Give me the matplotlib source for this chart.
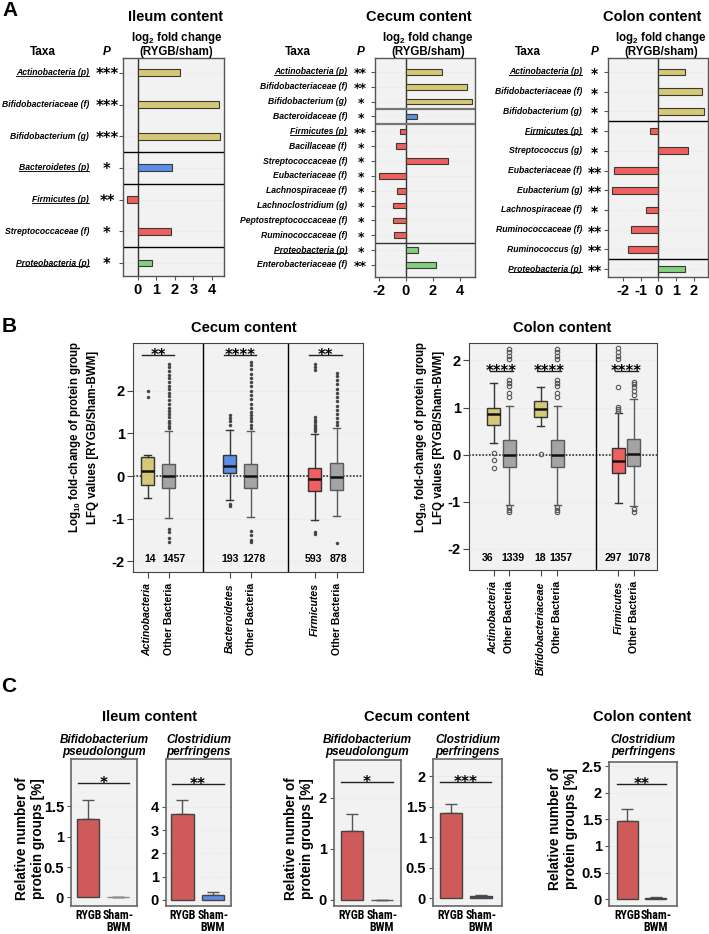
import matplotlib
matplotlib.use('Agg')
import matplotlib.pyplot as plt
from matplotlib.lines import Line2D
from matplotlib import font_manager as fm
from matplotlib import transforms as mtransforms
import numpy as np

plt.rcParams['font.family'] = ['Liberation Sans', 'DejaVu Sans']
plt.rcParams['font.weight'] = 'bold'
plt.rcParams['mathtext.fontset'] = 'custom'
plt.rcParams['mathtext.rm'] = 'Liberation Sans:bold'
plt.rcParams['mathtext.it'] = 'Liberation Sans:bold:italic'
plt.rcParams['mathtext.bf'] = 'Liberation Sans:bold'
plt.rcParams['mathtext.default'] = 'rm'

NARROW = None
for fam in ['Liberation Sans Narrow', 'Roboto Condensed', 'Open Sans Condensed']:
    try:
        fm.findfont(fm.FontProperties(family=fam, weight='bold'), fallback_to_default=False)
        NARROW = fam
        break
    except Exception:
        pass

STAR_FAMILY = ['DejaVu Sans']

# ---------------- DATA ----------------
# Panel A: log2 fold change (RYGB/sham)
ileum_taxa = ['Actinobacteria (p)', 'Bifidobacteriaceae (f)', 'Bifidobacterium (g)',
              'Bacteroidetes (p)', 'Firmicutes (p)', 'Streptococcaceae (f)', 'Proteobacteria (p)']
ileum_phylum = ['Actinobacteria', 'Actinobacteria', 'Actinobacteria', 'Bacteroidetes',
                'Firmicutes', 'Firmicutes', 'Proteobacteria']
ileum_log2fc = [2.27, 4.4, 4.42, 1.83, -0.58, 1.77, 0.74]
ileum_p = ['***', '***', '***', '*', '**', '*', '*']

cecum_taxa = ['Actinobacteria (p)', 'Bifidobacteriaceae (f)', 'Bifidobacterium (g)',
              'Bacteroidaceae (f)', 'Firmicutes (p)', 'Bacillaceae (f)', 'Streptococcaceae (f)',
              'Eubacteriaceae (f)', 'Lachnospiraceae (f)', 'Lachnoclostridium (g)',
              'Peptostreptococcaceae (f)', 'Ruminococcaceae (f)', 'Proteobacteria (p)',
              'Enterobacteriaceae (f)']
cecum_phylum = ['Actinobacteria'] * 3 + ['Bacteroidetes'] + ['Firmicutes'] * 8 + ['Proteobacteria'] * 2
cecum_log2fc = [2.65, 4.5, 4.9, 0.8, -0.42, -0.74, 3.13, -1.94, -0.62, -0.91, -0.96, -0.84, 0.93, 2.2]
cecum_p = ['**', '**', '*', '*', '**', '*', '*', '*', '*', '*', '*', '*', '*', '**']

colon_taxa = ['Actinobacteria (p)', 'Bifidobacteriaceae (f)', 'Bifidobacterium (g)',
              'Firmicutes (p)', 'Streptococcus (g)', 'Eubacteriaceae (f)', 'Eubacterium (g)',
              'Lachnospiraceae (f)', 'Ruminococcaceae (f)', 'Ruminococcus (g)', 'Proteobacteria (p)']
colon_phylum = ['Actinobacteria'] * 3 + ['Firmicutes'] * 7 + ['Proteobacteria']
colon_log2fc = [1.5, 2.47, 2.57, -0.45, 1.69, -2.49, -2.62, -0.69, -1.57, -1.69, 1.5]
colon_p = ['*', '*', '*', '*', '*', '**', '**', '*', '**', '**', '**']

# Panel B: box plot statistics (log10 fold change)
b_cecum_labels = ['Actinobacteria', 'Other Bacteria', 'Bacteroidetes', 'Other Bacteria',
                  'Firmicutes', 'Other Bacteria']
b_cecum_group = ['Actinobacteria', 'Other', 'Bacteroidetes', 'Other', 'Firmicutes', 'Other']
b_cecum_n = [14, 1457, 193, 1278, 593, 878]
b_cecum_q1 = [-0.21, -0.29, 0.06, -0.28, -0.35, -0.33]
b_cecum_med = [0.12, 0.0, 0.24, 0.0, -0.07, -0.02]
b_cecum_q3 = [0.45, 0.28, 0.5, 0.28, 0.2, 0.3]
b_cecum_lo = [-0.51, -0.99, -0.56, -0.96, -1.03, -0.94]
b_cecum_hi = [0.49, 1.05, 1.07, 1.05, 0.98, 1.12]
b_cecum_fliers = [
    [1.86, 2.0],
    [1.12, 1.18, 1.25, 1.3, 1.38, 1.45, 1.52, 1.6, 1.7, 1.78, 1.88, 1.95, 2.05, 2.12,
     2.2, 2.3, 2.38, 2.47, 2.55, 2.62, -1.25, -1.32, -1.45, -1.55],
    [1.2, 1.28, 1.35, 1.42, -0.65, -0.7],
    [1.12, 1.2, 1.28, 1.35, 1.42, 1.5, 1.6, 1.7, 1.8, 1.9, 2.0, 2.1, 2.2, 2.3, 2.4,
     2.5, 2.6, 2.68, -1.3, -1.38, -1.5, -1.55],
    [1.05, 1.1, 1.15, 1.2, 1.26, 1.32, 1.38, 2.48, 2.55, 2.62, -1.32, -1.37],
    [1.2, 1.27, 1.35, 1.45, 1.55, 1.65, 1.75, 1.85, 1.95, 2.05, 2.15, 2.25, 2.35, 2.42, -1.58],
]
b_cecum_sig = ['**', '****', '**']

b_colon_labels = ['Actinobacteria', 'Other Bacteria', 'Bifidobacteriaceae', 'Other Bacteria',
                  'Firmicutes', 'Other Bacteria']
b_colon_group = ['Actinobacteria', 'Other', 'Actinobacteria', 'Other', 'Firmicutes', 'Other']
b_colon_n = [36, 1339, 18, 1357, 297, 1078]
b_colon_q1 = [0.62, -0.27, 0.79, -0.27, -0.4, -0.25]
b_colon_med = [0.86, 0.0, 0.96, 0.0, -0.13, 0.02]
b_colon_q3 = [0.99, 0.3, 1.14, 0.3, 0.13, 0.33]
b_colon_lo = [0.25, -1.07, 0.6, -1.07, -1.02, -1.1]
b_colon_hi = [1.53, 1.03, 1.44, 1.03, 0.88, 1.18]
b_colon_fliers = [
    [0.03, -0.12, -0.28],
    [1.22, 1.3, 1.45, 1.52, 1.58, 2.02, 2.1, 2.17, 2.25, -1.12, -1.17, -1.22],
    [0.02],
    [1.22, 1.3, 1.45, 1.52, 1.58, 2.02, 2.1, 2.17, 2.25, -1.12, -1.17, -1.22],
    [0.93, 0.97, 1.01, 1.44, 2.02, 2.1, 2.18, 2.26],
    [1.27, 1.35, 1.43, 1.5, 1.55, -1.16, -1.22],
]
b_colon_sig = ['****', '****', '****']

# Panel C: relative number of protein groups [%]
c_groups = ['RYGB', 'Sham-\nBWM']
c_ileum_bifido = [1.29, 0.0]
c_ileum_bifido_err = [0.31, 0.0]
c_ileum_clos = [3.7, 0.23]
c_ileum_clos_err = [0.58, 0.1]
c_cecum_bifido = [1.34, 0.0]
c_cecum_bifido_err = [0.35, 0.0]
c_cecum_clos = [1.39, 0.04]
c_cecum_clos_err = [0.15, 0.01]
c_colon_clos = [1.47, 0.02]
c_colon_clos_err = [0.22, 0.01]
c_sig = ['*', '**', '*', '***', '**']

# ---------------- STYLE ----------------
W, H = 709, 934
BG = '#f2f2f2'
PHY_COL = {'Actinobacteria': '#d5c977', 'Bacteroidetes': '#5b8ee6',
           'Firmicutes': '#ee6060', 'Proteobacteria': '#80d080', 'Other': '#a4a4a4'}

fig = plt.figure(figsize=(W / 100, H / 100), dpi=100)
underline = []


def add_ax(x0, y0, x1, y1):
    return fig.add_axes([x0 / W, 1 - y1 / H, (x1 - x0) / W, (y1 - y0) / H])


def ftext(x, y, s, **kw):
    return fig.text(x / W, 1 - y / H, s, **kw)


def fmt(v):
    return '{:g}'.format(v)


def shift(artist, dx_px):
    artist.set_transform(artist.get_transform() +
                         mtransforms.ScaledTranslation(dx_px / 100, 0, fig.dpi_scale_trans))


# ---------------- PANEL A ----------------
def draw_A(box, taxa, phylum, vals, pstars, xlim, xticks, ylim, bar_h,
           label_right, p_x, taxa_x, title_x, title, sep_cols, star_size):
    ax = add_ax(*box)
    ax.set_facecolor(BG)
    n = len(taxa)
    y = np.arange(n)
    for yy in y:
        ax.axhline(yy, color='#dddddd', lw=0.5, ls=':', zorder=0)
    ax.barh(y, vals, height=bar_h, color=[PHY_COL[p] for p in phylum],
            edgecolor='#3a3a30', linewidth=0.8, zorder=3)
    ax.axvline(0, color='#333333', lw=1.0, zorder=2)
    k = 0
    for i in range(1, n):
        if phylum[i] != phylum[i - 1]:
            c, lw = sep_cols[k]
            ax.axhline(i - 0.5, color=c, lw=lw, zorder=2)
            k += 1
    ax.set_xlim(xlim)
    ax.set_ylim(ylim)
    ax.set_xticks(xticks)
    ax.set_xticklabels([fmt(t) for t in xticks], fontsize=10.5, fontweight='bold')
    ax.set_yticks(y)
    ax.set_yticklabels([])
    ax.tick_params(axis='both', length=3, color='#555555', pad=2)
    for s in ax.spines.values():
        s.set_color('#555555')
        s.set_linewidth(1.0)
    for i, (t, p) in enumerate(zip(taxa, pstars)):
        tx = ax.annotate(t, xy=(label_right, i), xycoords=('figure pixels', 'data'),
                         ha='right', va='center', fontsize=6.2, fontstyle='italic',
                         fontweight='bold', annotation_clip=False)
        if '(p)' in t:
            underline.append(tx)
        ax.annotate(p, xy=(p_x, i), xycoords=('figure pixels', 'data'),
                    xytext=(0, -0.43 * star_size), textcoords='offset points',
                    ha='center', va='baseline', fontsize=star_size, fontweight='bold',
                    family=STAR_FAMILY, annotation_clip=False)
    cx = (box[0] + box[2]) / 2 + 3
    ftext(taxa_x, 52, 'Taxa', ha='center', va='center', fontsize=8.5, fontweight='bold')
    ftext(p_x, 52, 'P', ha='center', va='center', fontsize=8.5, fontweight='bold',
          fontstyle='italic')
    ftext(cx, 38, 'log$_2$ fold change', ha='center', va='center', fontsize=8.3)
    ftext(cx, 52, '(RYGB/sham)', ha='center', va='center', fontsize=8.3, fontweight='bold')
    ftext(title_x, 17, title, ha='center', va='center', fontsize=10.5, fontweight='bold')
    return ax


draw_A((123, 58, 224, 276), ileum_taxa, ileum_phylum, ileum_log2fc, ileum_p,
       (-0.8, 4.65), [0, 1, 2, 3, 4], (6.41, -0.47), 0.22,
       89, 107, 43, 175, 'Ileum content', [('k', 1.0)] * 3, 10.5)
draw_A((375, 58, 475, 277), cecum_taxa, cecum_phylum, cecum_log2fc, cecum_p,
       (-2.26, 5.1), [-2, 0, 2, 4], (13.81, -0.94), 0.38,
       347, 360.5, 298, 419, 'Cecum content',
       [('#777777', 1.6), ('#777777', 1.6), ('#333333', 1.0)], 9.0)
draw_A((608, 58, 708, 277), colon_taxa, colon_phylum, colon_log2fc, colon_p,
       (-2.84, 2.8), [-2, -1, 0, 1, 2], (10.4, -0.71), 0.34,
       582, 594.5, 528, 652, 'Colon content', [('k', 1.0)] * 2, 10.0)


# ---------------- PANEL B ----------------
def draw_B(box, labels, group, nvals, n_dx, q1, med, q3, lo, hi, fliers, sig,
           pos, xlim, ylim, dividers, width, n_y, sig_y, open_fliers, title, title_x):
    ax = add_ax(*box)
    ax.set_facecolor(BG)
    ax.grid(axis='y', color='#dddddd', lw=0.5, ls=':')
    ax.set_axisbelow(True)
    ax.axhline(0, color='#333333', ls=(0, (1, 1)), lw=1.2, zorder=1)
    stats = []
    for i in range(len(labels)):
        stats.append(dict(med=med[i], q1=q1[i], q3=q3[i], whislo=lo[i], whishi=hi[i],
                          fliers=np.array(fliers[i])))
    if open_fliers:
        fp = dict(marker='o', markersize=3.2, markerfacecolor='none',
                  markeredgecolor='#555555', markeredgewidth=0.8, linestyle='none')
    else:
        fp = dict(marker='o', markersize=2.2, markerfacecolor='#444444',
                  markeredgecolor='#444444', markeredgewidth=0.3, linestyle='none')
    bp = ax.bxp(stats, positions=pos, widths=width, patch_artist=True, showfliers=True,
                capwidths=width * 0.55, flierprops=fp,
                medianprops=dict(color='#111111', lw=1.8),
                boxprops=dict(lw=1.0), whiskerprops=dict(lw=1.0), capprops=dict(lw=1.0))
    for i, g in enumerate(group):
        ec = '#5a5a5a' if g == 'Other' else '#333333'
        bp['boxes'][i].set_facecolor(PHY_COL[g])
        bp['boxes'][i].set_edgecolor(ec)
        for art in bp['whiskers'][2 * i:2 * i + 2] + bp['caps'][2 * i:2 * i + 2]:
            art.set_color(ec)
    for d in dividers:
        ax.axvline(d, color='k', lw=1.0)
    for i, nv in enumerate(nvals):
        ax.annotate(str(nv), xy=(pos[i], n_y), xytext=(n_dx[i] * 0.72, 0),
                    textcoords='offset points', ha='center', va='center',
                    fontsize=7.6, fontweight='bold')
    for g, s in enumerate(sig):
        x0, x1 = pos[2 * g] - 0.25, pos[2 * g + 1] + 0.25
        ax.plot([x0, x1], [sig_y, sig_y], color='#222222', lw=1.0)
        ax.annotate(s, xy=((x0 + x1) / 2, sig_y), xytext=(0, -3.6),
                    textcoords='offset points', ha='center', va='baseline',
                    fontsize=10.5, fontweight='bold', family=STAR_FAMILY)
    ax.set_xlim(xlim)
    ax.set_ylim(ylim)
    ax.set_yticks([-2, -1, 0, 1, 2])
    ax.set_yticklabels([fmt(t) for t in [-2, -1, 0, 1, 2]], fontsize=10.5, fontweight='bold')
    ax.set_xticks(pos)
    ax.set_xticklabels(labels, rotation=90, fontsize=7.6, fontweight='bold')
    for lab, g in zip(ax.get_xticklabels(), group):
        if g != 'Other':
            lab.set_fontstyle('italic')
    ax.tick_params(axis='both', length=4, color='#444444', pad=2)
    ax.tick_params(axis='x', pad=4)
    for s in ax.spines.values():
        s.set_color('#444444')
    ftext(title_x, 328, title, ha='center', va='center', fontsize=10.5, fontweight='bold')
    return ax


draw_B((133, 343, 363, 572), b_cecum_labels, b_cecum_group, b_cecum_n,
       [2.5, 5, 0.7, 3.7, -1, 2], b_cecum_q1,
       b_cecum_med, b_cecum_q3, b_cecum_lo, b_cecum_hi, b_cecum_fliers, b_cecum_sig,
       [0, 1, 3.9, 4.9, 7.95, 9.0], (-0.7, 10.25), (-2.25, 3.12), [2.63, 6.66], 0.62,
       -1.95, 2.84, False, 'Cecum content', 244)
draw_B((469, 343, 657, 570), b_colon_labels, b_colon_group, b_colon_n,
       [-6, 4, -1, 3.5, -5, 5], b_colon_q1,
       b_colon_med, b_colon_q3, b_colon_lo, b_colon_hi, b_colon_fliers, b_colon_sig,
       [0, 1, 3.05, 4.1, 8.05, 9.05], (-1.59, 10.54), (-2.45, 2.37), [6.63], 0.84,
       -2.2, 1.78, True, 'Colon content', 562)

ylab_B = 'Log$_{10}$ fold-change of protein group\nLFQ values [RYGB/Sham-BWM]'
ftext(83, 437, ylab_B, rotation=90, ha='center', va='center', fontsize=8.3,
      fontweight='bold', linespacing=1.35)
ftext(429, 437, ylab_B, rotation=90, ha='center', va='center', fontsize=8.3,
      fontweight='bold', linespacing=1.35)


# ---------------- PANEL C ----------------
def draw_C(box, vals, errs, sham_col, xlim, ylim, yticks, sig, sig_y, subtitle):
    ax = add_ax(*box)
    ax.set_facecolor(BG)
    ax.grid(axis='y', color='#dddddd', lw=0.5, ls=':')
    ax.set_axisbelow(True)
    x = np.arange(len(vals))
    ax.bar(x, vals, width=0.74, color=['#cf5a5a', sham_col],
           edgecolor=['#444444', sham_col if vals[1] < 0.01 else '#444444'],
           linewidth=1.0, zorder=3)
    ax.errorbar(x, vals, yerr=[np.zeros(len(vals)), errs], fmt='none', ecolor='#555555',
                elinewidth=1.0, capsize=4, capthick=1.0, zorder=2)
    ax.plot([-0.35, 1.35], [sig_y, sig_y], color='#222222', lw=1.0)
    ax.annotate(sig, xy=(0.5, sig_y), xytext=(0, -3.6), textcoords='offset points',
                ha='center', va='baseline', fontsize=11, fontweight='bold',
                family=STAR_FAMILY)
    ax.set_xlim(xlim)
    ax.set_ylim(ylim)
    ax.set_yticks(yticks)
    ax.set_yticklabels([fmt(t) for t in yticks], fontsize=10.5, fontweight='bold')
    ax.set_xticks(x)
    if NARROW:
        ax.set_xticklabels(c_groups, fontsize=8.6, fontweight='bold', linespacing=0.9,
                           family=[NARROW, 'Liberation Sans'])
    else:
        ax.set_xticklabels(c_groups, fontsize=7.3, fontweight='bold', linespacing=0.9)
    labs = ax.get_xticklabels()
    shift(labs[0], -4)
    shift(labs[1], 1)
    ax.tick_params(axis='x', length=0, pad=2)
    ax.tick_params(axis='y', length=3, color='#555555', pad=2)
    for s in ax.spines.values():
        s.set_color('#666666')
        s.set_linewidth(1.2)
    cx = (box[0] + box[2]) / 2
    ftext(cx, 746, subtitle, ha='center', va='center', fontsize=8.5, fontweight='bold',
          fontstyle='italic', linespacing=1.05)
    return ax


draw_C((71, 759, 137, 906), c_ileum_bifido, c_ileum_bifido_err, '#8a8a8a',
       (-0.58, 1.62), (-0.14, 2.28), [0, 0.5, 1, 1.5], c_sig[0], 1.89,
       'Bifidobacterium\npseudolongum')
draw_C((166, 759, 231, 906), c_ileum_clos, c_ileum_clos_err, '#5b8ee8',
       (-0.54, 1.59), (-0.26, 6.06), [0, 1, 2, 3, 4], c_sig[1], 5.0,
       'Clostridium\nperfringens')
draw_C((334, 760, 401, 906), c_cecum_bifido, c_cecum_bifido_err, '#5a5a70',
       (-0.59, 1.63), (-0.12, 2.74), [0, 1, 2], c_sig[2], 2.3,
       'Bifidobacterium\npseudolongum')
draw_C((433, 759, 502, 906), c_cecum_clos, c_cecum_clos_err, '#3e5a8a',
       (-0.59, 1.71), (-0.13, 2.28), [0, 0.5, 1, 1.5, 2], c_sig[3], 1.9,
       'Clostridium\nperfringens')
draw_C((609, 762, 677, 906), c_colon_clos, c_colon_clos_err, '#222222',
       (-0.64, 1.74), (-0.13, 2.58), [0, 0.5, 1, 1.5, 2, 2.5], c_sig[4], 2.17,
       'Clostridium\nperfringens')

ylab_C = 'Relative number of\nprotein groups [%]'
for xc, yc in [(30, 839), (299, 839), (563, 829)]:
    ftext(xc, yc, ylab_C, rotation=90, ha='center', va='center', fontsize=9.8,
          fontweight='bold', linespacing=1.15)
for xc, t in [(150, 'Ileum content'), (417, 'Cecum content'), (642, 'Colon content')]:
    ftext(xc, 717, t, ha='center', va='center', fontsize=10.5, fontweight='bold')

# panel letters
ftext(10, 11, 'A', ha='center', va='center', fontsize=15, fontweight='bold')
ftext(9, 327, 'B', ha='center', va='center', fontsize=15, fontweight='bold')
ftext(9, 686, 'C', ha='center', va='center', fontsize=15, fontweight='bold')

# underline phylum labels
fig.canvas.draw()
r = fig.canvas.get_renderer()
inv = fig.transFigure.inverted()
for t in underline:
    bb = t.get_window_extent(r)
    (x0, y0), (x1, _) = inv.transform([(bb.x0, bb.y0 + 1.2), (bb.x1, bb.y0 + 1.2)])
    fig.add_artist(Line2D([x0, x1], [y0, y0], color='#111111', lw=0.7,
                          transform=fig.transFigure))

fig.savefig('out.png', dpi=100)
